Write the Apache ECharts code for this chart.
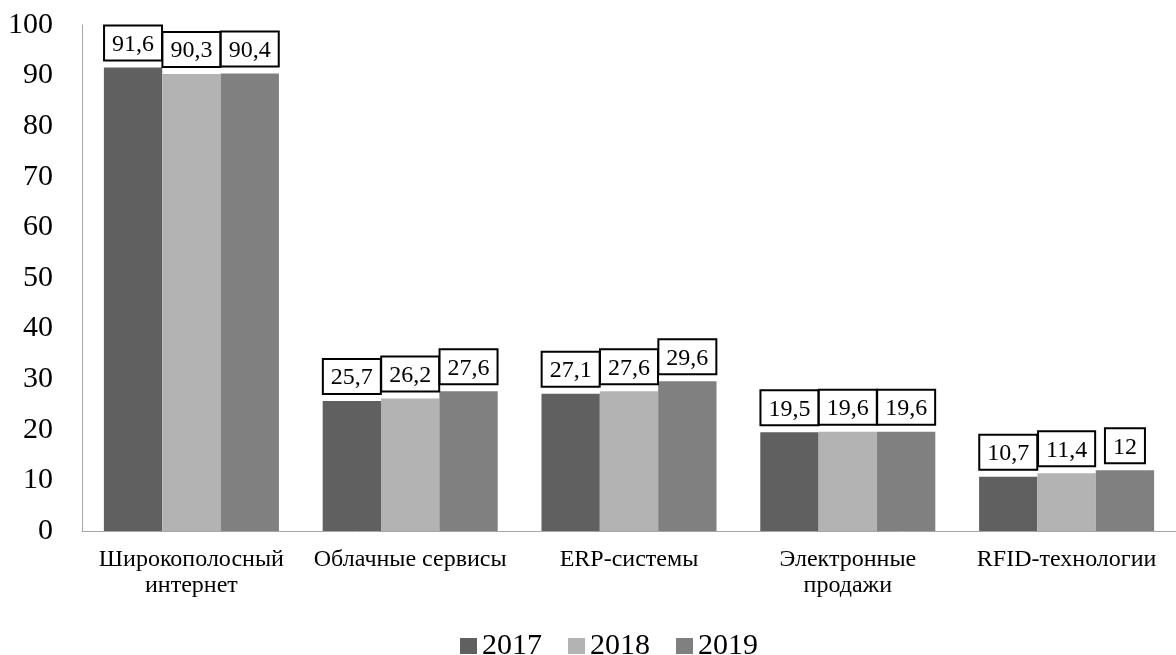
<!DOCTYPE html>
<html>
<head>
<meta charset="utf-8">
<script src="https://cdn.jsdelivr.net/npm/echarts@6/dist/echarts.min.js"></script>
<style>
  html, body { margin: 0; padding: 0; background: #fff; }
  #chart { width: 1176px; height: 655px; }
</style>
</head>
<body>
<div id="chart"></div>
<script>
// Доля организаций, использующих цифровые технологии, %
const categories = ['Широкополосный\nинтернет', 'Облачные сервисы', 'ERP-системы', 'Электронные\nпродажи', 'RFID-технологии'];
const years = ['2017', '2018', '2019'];
const values2017 = [91.6, 25.7, 27.1, 19.5, 10.7];
const values2018 = [90.3, 26.2, 27.6, 19.6, 11.4];
const values2019 = [90.4, 27.6, 29.6, 19.6, 12];
const yTicks = [0, 10, 20, 30, 40, 50, 60, 70, 80, 90, 100];

const colors = ['#606060', '#b3b3b3', '#808080'];
const font = '"Liberation Serif", "Times New Roman", serif';

// decimal comma, as in Russian typography
function fmt(v) {
  return String(v).replace('.', ',');
}

function makeSeries(name, data, color) {
  return {
    name: name,
    type: 'bar',
    data: data,
    barGap: '0%',
    barCategoryGap: '20%',
    itemStyle: { color: color },
    label: {
      show: true,
      position: 'top',
      distance: 8,
      formatter: p => fmt(p.value),
      fontFamily: font,
      fontSize: 24,
      lineHeight: 24,
      color: '#000',
      backgroundColor: '#fff',
      borderColor: '#000',
      borderWidth: 2,
      padding: [6, 7, 3, 7]
    }
  };
}

const chart = echarts.init(document.getElementById('chart'), null, { renderer: 'canvas' });
chart.setOption({
  animation: false,
  textStyle: { fontFamily: font },
  grid: { left: 82, top: 25, width: 1105, bottom: 124, containLabel: false },
  legend: {
    top: 626,
    left: 455,
    itemWidth: 17,
    itemHeight: 16,
    itemGap: 26,
    icon: 'rect',
    textStyle: { fontFamily: font, fontSize: 30, color: '#000' },
    data: years
  },
  xAxis: {
    type: 'category',
    data: categories,
    axisLine: { show: true, lineStyle: { color: '#a6a6a6', width: 1 } },
    axisTick: { show: false },
    axisLabel: {
      fontFamily: font,
      fontSize: 24,
      color: '#000',
      margin: 16,
      lineHeight: 26,
      interval: 0
    }
  },
  yAxis: {
    type: 'value',
    min: yTicks[0],
    max: yTicks[yTicks.length - 1],
    interval: 10,
    axisLine: { show: true, lineStyle: { color: '#a6a6a6', width: 1 } },
    axisTick: { show: false },
    splitLine: { show: false },
    axisLabel: {
      fontFamily: font,
      fontSize: 30,
      color: '#000',
      margin: 29
    }
  },
  series: [
    makeSeries(years[0], values2017, colors[0]),
    makeSeries(years[1], values2018, colors[1]),
    makeSeries(years[2], values2019, colors[2])
  ]
});
</script>
</body>
</html>
